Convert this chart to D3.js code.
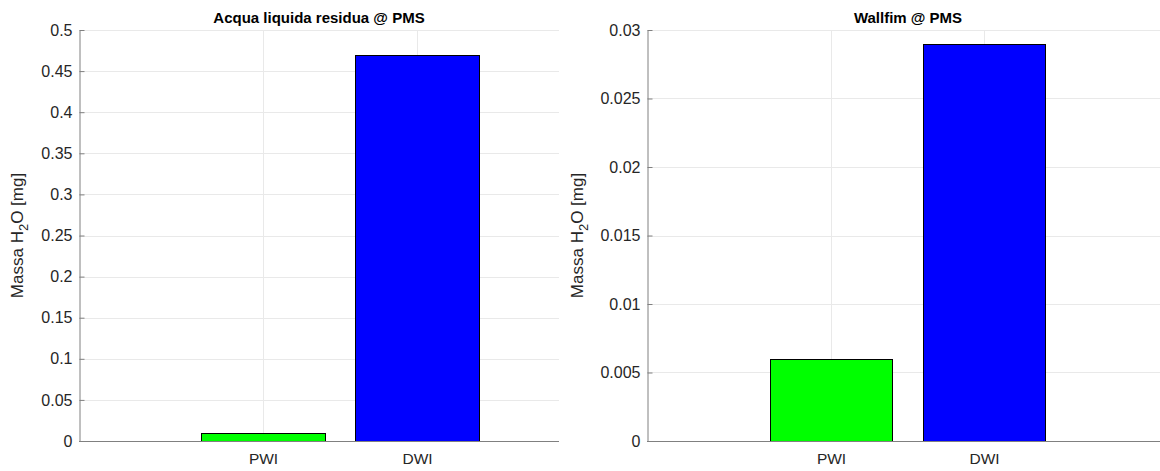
<!DOCTYPE html>
<html><head><meta charset="utf-8">
<script src="https://cdn.jsdelivr.net/npm/d3@7"></script>
<style>body{margin:0;background:#fff}svg{display:block}text{font-family:"Liberation Sans",Arial,sans-serif}</style>
</head><body>
<svg id="c" width="1160" height="471"></svg>
<script>
const categories = ["PWI", "DWI"];
const leftValues = [0.01, 0.47];
const rightValues = [0.006, 0.029];
const barColors = ["#00ff00", "#0000ff"];
const leftTicks = [0, 0.05, 0.1, 0.15, 0.2, 0.25, 0.3, 0.35, 0.4, 0.45, 0.5];
const rightTicks = [0, 0.005, 0.01, 0.015, 0.02, 0.025, 0.03];
const leftTickLabels = ["0","0.05","0.1","0.15","0.2","0.25","0.3","0.35","0.4","0.45","0.5"];
const rightTickLabels = ["0","0.005","0.01","0.015","0.02","0.025","0.03"];
const titles = ["Acqua liquida residua @ PMS", "Wallfim @ PMS"];

const svg = d3.select("#c");
const plotTop = 30, plotBottom = 441;

function panel(cfg) {
  const g = svg.append("g");
  const x = d3.scaleLinear().domain(cfg.xdom).range([cfg.x0, cfg.x1]);
  const y = d3.scaleLinear().domain([0, cfg.ymax]).range([plotBottom, plotTop]);
  g.append("defs").append("clipPath").attr("id", "clip" + cfg.id)
    .append("rect").attr("x", cfg.x0).attr("y", plotTop - 1).attr("width", cfg.x1 - cfg.x0).attr("height", plotBottom - plotTop + 2);
  const inner = g.append("g").attr("clip-path", `url(#clip${cfg.id})`);
  // grid
  inner.selectAll(".hg").data(cfg.ticks.slice(1)).join("line")
    .attr("x1", cfg.x0).attr("x2", cfg.x1).attr("y1", d => Math.round(y(d)) + 0.5).attr("y2", d => Math.round(y(d)) + 0.5)
    .attr("stroke", "#e9e9e9").attr("stroke-width", 1);
  inner.selectAll(".vg").data(categories).join("line")
    .attr("x1", (d, i) => Math.round(x(i + 1)) + 0.5).attr("x2", (d, i) => Math.round(x(i + 1)) + 0.5)
    .attr("y1", plotTop).attr("y2", plotBottom).attr("stroke", "#e9e9e9");
  // bars
  inner.selectAll(".bar").data(cfg.values).join("rect")
    .attr("x", (d, i) => Math.round(x(i + 1 - 0.4)) + 0.5)
    .attr("width", (d, i) => Math.round(x(i + 1 + 0.4)) - Math.round(x(i + 1 - 0.4)))
    .attr("y", d => Math.round(y(d)) + 0.5)
    .attr("height", d => Math.round(y(0)) - Math.round(y(d)))
    .attr("fill", (d, i) => barColors[i]).attr("stroke", "#000").attr("stroke-width", 1);
  // y axis
  const ya = d3.axisLeft(y).tickValues(cfg.ticks).tickFormat((d, i) => cfg.labels[i]).tickSizeInner(-5).tickSizeOuter(0).tickPadding(7);
  const yg = g.append("g").attr("transform", `translate(${cfg.x0 + 0.5},0)`).call(ya);
  yg.select(".domain").attr("stroke", "#808080");
  yg.selectAll(".tick line").attr("stroke", "#808080");
  yg.selectAll("text").attr("fill", "#262626").style("font-size", "16px").attr("font-family", "Liberation Sans, Arial, sans-serif");
  // x axis
  const xa = d3.axisBottom(x).tickValues([1, 2]).tickFormat((d, i) => categories[i]).tickSize(0).tickPadding(11);
  const xg = g.append("g").attr("transform", `translate(0,${plotBottom + 0.5})`).call(xa);
  xg.select(".domain").attr("stroke", "#808080").attr("d", `M${cfg.x0},0H${cfg.x1}`);
  xg.selectAll("text").attr("fill", "#262626").style("font-size", "15.5px").attr("font-family", "Liberation Sans, Arial, sans-serif");
  // title
  g.append("text").attr("x", (cfg.x0 + cfg.x1) / 2).attr("y", 23).attr("text-anchor", "middle")
    .attr("font-weight", "bold").style("font-size", "15px").attr("fill", "#000").text(cfg.title);
  // ylabel
  const yl = g.append("text").attr("transform", `translate(${cfg.lx},${(plotTop + plotBottom) / 2}) rotate(-90)`)
    .attr("text-anchor", "middle").style("font-size", "17px").attr("fill", "#262626");
  yl.append("tspan").text("Massa H");
  yl.append("tspan").attr("dy", 5).style("font-size", "13px").text("2");
  yl.append("tspan").attr("dy", -5).text("O [mg]");
}

panel({id: 0, x0: 79, x1: 559, xdom: [-0.195, 2.922], ymax: 0.5, ticks: leftTicks, labels: leftTickLabels, values: leftValues, title: titles[0], lx: 23});
panel({id: 1, x0: 647, x1: 1169, xdom: [-0.203, 3.209], ymax: 0.03, ticks: rightTicks, labels: rightTickLabels, values: rightValues, title: titles[1], lx: 583});
</script>
</body></html>
